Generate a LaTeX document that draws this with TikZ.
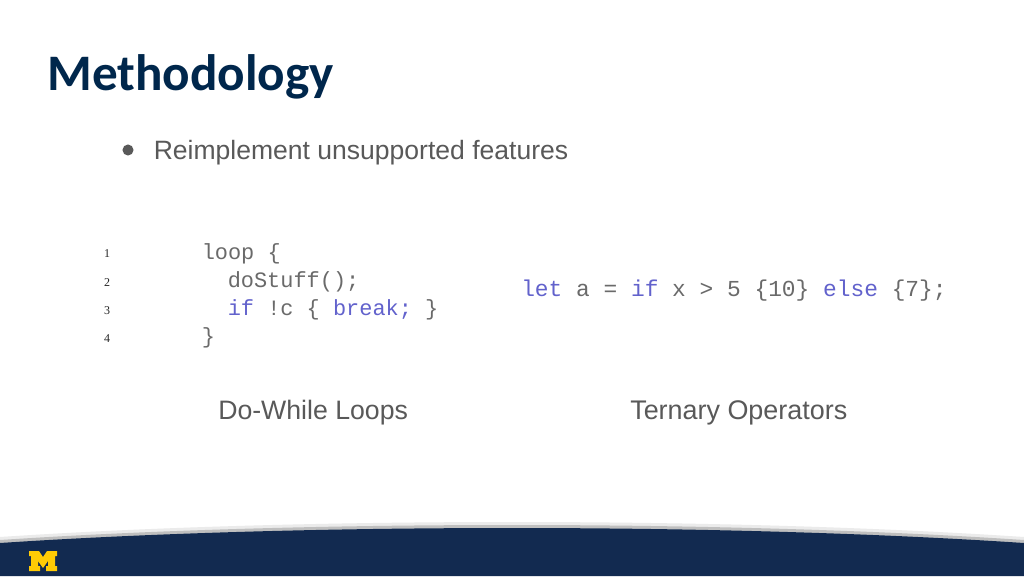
\documentclass[tikz,border=0pt]{standalone}
\usepackage{fontspec}
\setmainfont{Liberation Sans}
\newfontfamily\titlefont{Carlito}
\newfontfamily\codefont{Liberation Mono}
\newfontfamily\numfont{Liberation Serif}
\definecolor{navy}{HTML}{122A50}
\definecolor{titleblue}{HTML}{00274C}
\definecolor{maize}{HTML}{FFCB05}
\definecolor{bodygray}{HTML}{595959}
\definecolor{codegray}{HTML}{6A6A6A}
\definecolor{codeblue}{HTML}{6262CC}
\tikzset{
    txt/.style={inner sep=0pt, anchor=base west, text=bodygray, font=\fontsize{20}{24}\selectfont},
    codel/.style={inner sep=0pt, anchor=base west, text=codegray, font=\fontsize{16.45}{20}\codefont},
    coder/.style={inner sep=0pt, anchor=base west, text=codegray, font=\fontsize{17.15}{20}\codefont},
    linenum/.style={inner sep=0pt, anchor=base, text=black!85, font=\fontsize{9}{10}\numfont},
}
\begin{document}
\begin{tikzpicture}[x=0.75pt, y=-0.75pt, line join=round, line cap=round]
    \useasboundingbox (0,0) rectangle (1024,576);
    \fill[white] (0,0) rectangle (1024,576);
    % footer
    \fill[black!8] (0,537) .. controls (300,517) and (724,517) .. (1024,537) -- (1024,544) -- (0,544) -- cycle;
    \fill[black!25] (0,540) .. controls (300,520) and (724,520) .. (1024,540) -- (1024,544) -- (0,544) -- cycle;
    \fill[navy] (0,543) .. controls (300,523) and (724,523) .. (1024,543) -- (1024,576) -- (0,576) -- cycle;
    \fill[maize] (29,551) -- (39,551) -- (43,557) -- (47,551) -- (57,551) -- (57,556) -- (55,556) -- (55,566) -- (57,566) -- (57,571) -- (46,571) -- (46,566) -- (48,566) -- (48,561) -- (43,568) -- (38,561) -- (38,566) -- (40,566) -- (40,571) -- (29,571) -- (29,566) -- (31,566) -- (31,556) -- (29,556) -- cycle;
    % title and bullet
    \node[inner sep=0pt, anchor=base west, text=titleblue, font=\fontsize{38.4}{44}\titlefont\bfseries] (title) at (47,90.5) {Methodology};
    \node[circle, fill=bodygray, inner sep=0pt, minimum size=8.3pt] (dot) at (128,150) {};
    \node[txt, font=\fontsize{19.9}{24}\selectfont] (reimpl) at (153.5,159) {Reimplement unsupported features};
    % line numbers
    \foreach \n/\y in {1/257, 2/286, 3/314, 4/342}
        \node[linenum] (num\n) at (107,\y) {\n};
    % loop code
    \node[codel] (loopa) at (201.5,259) {loop \{};
    \node[codel] (loopb) at (227.5,287) {doStuff();};
    \node[codel] (loopc) at (227.5,315) {\textcolor{codeblue}{if} !c \{ \textcolor{codeblue}{break;} \}};
    \node[codel] (loopd) at (201.5,343) {\}};
    % ternary code
    \node[coder] (ternary) at (521,296) {\textcolor{codeblue}{let} a = \textcolor{codeblue}{if} x > 5 \{10\} \textcolor{codeblue}{else} \{7\};};
    % captions
    \node[txt] (capl) at (218,419) {Do-While Loops};
    \node[txt, font=\fontsize{20.2}{24}\selectfont] (capr) at (630,419) {Ternary Operators};
\end{tikzpicture}
\end{document}
